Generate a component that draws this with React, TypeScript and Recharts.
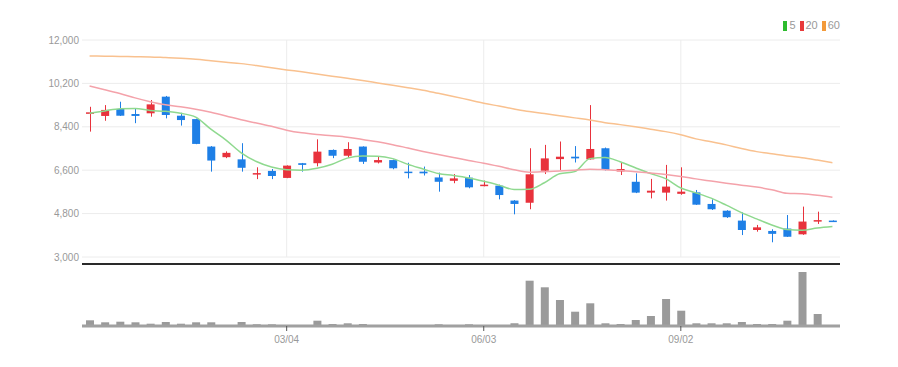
import React from "react";
import { ComposedChart, Bar, Line, XAxis, YAxis, CartesianGrid, ReferenceLine } from "recharts";

// weekly candles
const dates = [
  "12/04", "12/11", "12/18", "12/25", "01/01", "01/08", "01/15", "01/22", "01/29", "02/05",
  "02/12", "02/19", "02/26", "03/04", "03/11", "03/18", "03/25", "04/01", "04/08", "04/15",
  "04/22", "04/29", "05/06", "05/13", "05/20", "05/27", "06/03", "06/10", "06/17", "06/24",
  "07/01", "07/08", "07/15", "07/22", "07/29", "08/05", "08/12", "08/19", "08/26", "09/02",
  "09/09", "09/16", "09/23", "09/30", "10/07", "10/14", "10/21", "10/28", "11/04", "11/11",
];
const opens = [
  8950, 8850, 9140, 8930, 8960, 9650, 8860, 8720, 7580, 7140,
  7050, 6450, 6570, 6280, 6890, 6890, 7440, 7200, 7580, 6920,
  7020, 6540, 6540, 6300, 6160, 6290, 5960, 5960, 5340, 5250,
  6580, 7060, 7160, 7050, 7510, 6550, 6120, 5670, 5670, 5620,
  5680, 5200, 4920, 4510, 4120, 4080, 4180, 3940, 4470, 4510,
];
const highs = [
  9230, 9300, 9440, 9170, 9510, 9680, 8980, 8740, 7600, 7380,
  7720, 6720, 6650, 6800, 6900, 7880, 7460, 7760, 7590, 7160,
  7040, 6910, 6750, 6500, 6440, 6400, 6170, 6000, 5360, 7510,
  7650, 7790, 7600, 9300, 7540, 6910, 6470, 6240, 6820, 6720,
  5780, 5390, 4940, 4850, 4330, 4150, 4740, 5090, 4880, 4520,
];
const lows = [
  8200, 8650, 8850, 8550, 8820, 8750, 8450, 7680, 6540, 7100,
  6540, 6230, 6230, 6270, 6540, 6760, 7100, 7120, 6860, 6880,
  6640, 6260, 6380, 5710, 6060, 5850, 5930, 5390, 4770, 4980,
  6440, 6610, 6920, 7040, 6590, 6400, 5650, 5430, 5340, 5580,
  5160, 4950, 4620, 3910, 4050, 3610, 3830, 3920, 4370, 4470,
];
const closes = [
  9000, 9100, 8860, 8850, 9330, 8890, 8680, 7690, 7000, 7320,
  6700, 6480, 6360, 6790, 6820, 7370, 7200, 7480, 6950, 7020,
  6680, 6480, 6470, 6120, 6260, 5890, 6000, 5570, 5200, 6430,
  7090, 7160, 7090, 7480, 6610, 6650, 5670, 5750, 5920, 5710,
  5170, 4980, 4650, 4120, 4230, 3960, 3840, 4470, 4530, 4480,
];
const volumes = [
  570, 370, 430, 370, 230, 400, 230, 370, 370, 70,
  400, 170, 170, 30, 70, 530, 200, 270, 200, 70,
  70, 70, 70, 170, 70, 170, 70, 70, 270, 4530,
  3870, 2600, 1430, 2270, 270, 200, 600, 1000, 2700, 1530,
  270, 270, 270, 400, 200, 200, 530, 5400, 1200, 50,
];
const ma5 = [
  8960, 9060, 9150, 9160, 9080, 9040, 8960, 8800, 8300, 7850,
  7320, 6960, 6730, 6620, 6600, 6680, 6850, 7100, 7190, 7180,
  7080, 6840, 6650, 6460, 6380, 6280, 6140, 5980, 5800, 5810,
  6080, 6450, 6540, 7080, 7130, 6950, 6700, 6460, 6250, 5860,
  5660, 5440, 5150, 4840, 4580, 4330, 4140, 4110, 4200, 4260,
];
const ma20 = [
  10090, 9940, 9780, 9600, 9440, 9310, 9230, 9130, 9000, 8850,
  8690, 8560, 8420, 8260, 8150, 8080, 8030, 7970, 7870, 7780,
  7660, 7520, 7380, 7250, 7130, 7000, 6890, 6760, 6620, 6520,
  6540, 6570, 6600, 6640, 6620, 6590, 6540, 6480, 6420, 6340,
  6240, 6150, 6060, 5980, 5900, 5790, 5640, 5620, 5560, 5480,
];
const ma60 = [
  11340, 11330, 11320, 11310, 11300, 11270, 11240, 11200, 11140, 11080,
  11020, 10940, 10850, 10760, 10680, 10590, 10500, 10410, 10320, 10220,
  10120, 10020, 9920, 9790, 9660, 9520, 9380, 9260, 9140, 9030,
  8950, 8860, 8770, 8680, 8570, 8490, 8400, 8300, 8200, 8070,
  7900, 7780, 7650, 7500, 7370, 7280, 7190, 7120, 7020, 6910,
];
const dateTicks = ["03/04", "06/03", "09/02"];
const priceTicks = [3000, 4800, 6600, 8400, 10200, 12000];
const volumeMax = 6200;

const maLines = [
  { key: "ma5", name: "5", line: "#8fd98f", mark: "#2dbb2d" },
  { key: "ma20", name: "20", line: "#f4a2aa", mark: "#e83a3a" },
  { key: "ma60", name: "60", line: "#f9c18f", mark: "#f39a3a" },
];

const rows = dates.map((date, i) => ({
  date,
  open: opens[i],
  high: highs[i],
  low: lows[i],
  close: closes[i],
  volume: volumes[i],
  ma5: ma5[i],
  ma20: ma20[i],
  ma60: ma60[i],
}));

const FONT = "'Liberation Sans Narrow', 'Liberation Sans', sans-serif";
const UP = "#e8323c";
const DOWN = "#1e7fe6";

// eslint-disable-next-line @typescript-eslint/no-explicit-any
function Candle(props: any) {
  const { x, y, width, height, payload } = props;
  if (!payload || height == null) return null;
  const { open, close, high, low } = payload;
  const color = close >= open ? UP : DOWN;
  const ratio = high === low ? 0 : height / (high - low);
  const top = y + (high - Math.max(open, close)) * ratio;
  const bottom = y + (high - Math.min(open, close)) * ratio;
  const cx = Math.round(x + width / 2) + 0.5;
  return (
    <g>
      <line x1={cx} x2={cx} y1={y} y2={y + height} stroke={color} strokeWidth={1} />
      <rect x={x} y={top} width={width} height={Math.max(bottom - top, 1.5)} fill={color} />
    </g>
  );
}

function MaLegend() {
  return (
    <div
      style={{
        position: "absolute",
        top: 20,
        right: 58,
        display: "flex",
        alignItems: "center",
        gap: 4,
        fontFamily: FONT,
        fontSize: 11,
        color: "#999",
        lineHeight: "11px",
      }}
    >
      {maLines.map((m) => (
        <span key={m.key} style={{ display: "flex", alignItems: "center", gap: 2 }}>
          <span style={{ display: "inline-block", width: 4, height: 10, background: m.mark }} />
          {m.name}
        </span>
      ))}
    </div>
  );
}

export default function App() {
  const tickStyle = { fontSize: 10, fill: "#999", fontFamily: FONT };
  return (
    <div style={{ position: "absolute", left: 0, top: 0, width: 898, height: 367, background: "#fff" }}>
      <MaLegend />
      <div style={{ position: "absolute", left: 0, top: 0 }}>
        <ComposedChart width={898} height={266} data={rows} margin={{ top: 40, right: 58, bottom: 9, left: 0 }}>
          <CartesianGrid stroke="#ececec" syncWithTicks />
          <XAxis dataKey="date" ticks={dateTicks} hide />
          <YAxis
            type="number"
            domain={[3000, 12000]}
            ticks={priceTicks}
            interval={0}
            width={82}
            axisLine={false}
            tickLine={false}
            tickSize={1}
            tickMargin={2}
            tick={tickStyle}
            tickFormatter={(v: number) => v.toLocaleString("en-US")}
            allowDataOverflow
          />
          <Bar
            dataKey={(d: { low: number; high: number }) => [d.low, d.high]}
            barSize={8}
            shape={(p: unknown) => <Candle {...(p as object)} />}
            isAnimationActive={false}
          />
          {maLines.map((m) => (
            <Line
              key={m.key}
              dataKey={m.key}
              type="monotone"
              stroke={m.line}
              strokeWidth={1.5}
              dot={false}
              activeDot={false}
              isAnimationActive={false}
            />
          ))}
        </ComposedChart>
      </div>
      <div style={{ position: "absolute", left: 0, top: 262 }}>
        <ComposedChart width={898} height={94} data={rows} margin={{ top: 2, right: 58, bottom: 0, left: 82 }}>
          <XAxis
            dataKey="date"
            ticks={dateTicks}
            height={30}
            tickSize={5}
            tickMargin={5}
            tick={tickStyle}
            tickLine={{ stroke: "#555" }}
            axisLine={{ stroke: "#a0a0a0", strokeWidth: 3 }}
            interval={0}
          />
          <YAxis hide domain={[0, volumeMax]} />
          <Bar dataKey="volume" fill="#9a9a9a" barSize={8} isAnimationActive={false} />
          <ReferenceLine y={volumeMax} stroke="#2a2a2a" strokeWidth={2} />
        </ComposedChart>
      </div>
    </div>
  );
}
